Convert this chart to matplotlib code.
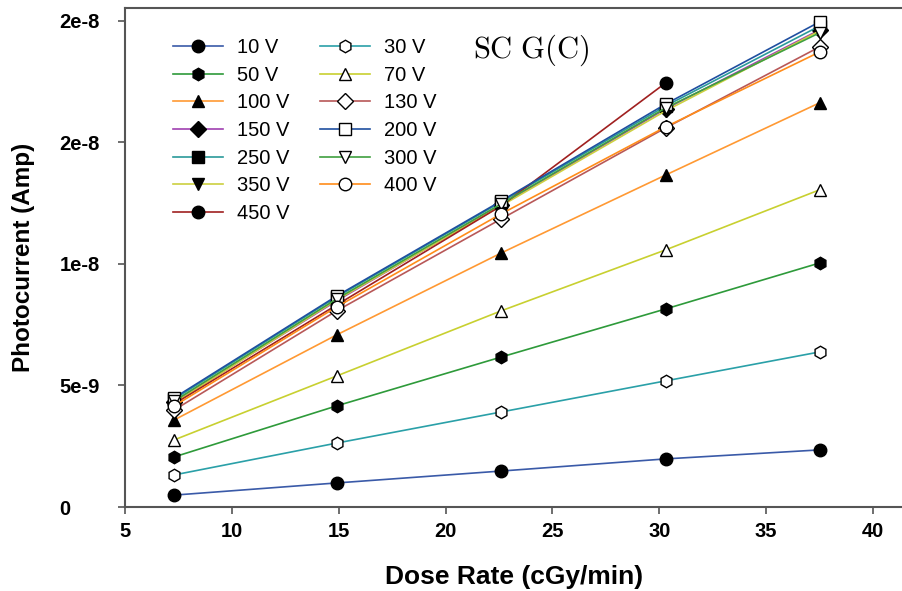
import numpy as np
import matplotlib.pyplot as plt

plt.rcParams['font.family'] = ['Liberation Sans', 'DejaVu Sans']
plt.rcParams['mathtext.fontset'] = 'cm'

dose = [7.3, 14.9, 22.6, 30.3, 37.5]

# photocurrent in units of 1e-9 A
i10 = [0.49, 0.99, 1.48, 1.98, 2.35]
i30 = [1.32, 2.63, 3.91, 5.19, 6.38]
i50 = [2.06, 4.16, 6.17, 8.15, 10.04]
i70 = [2.76, 5.39, 8.07, 10.58, 13.05]
i100 = [3.58, 7.08, 10.45, 13.66, 16.63]
i130 = [3.99, 8.07, 11.85, 15.60, 18.93]
i150 = [4.32, 8.48, 12.43, 16.38, 19.63]
i200 = [4.49, 8.68, 12.59, 16.58, 19.96]
i250 = [4.44, 8.64, 12.55, 16.50, 19.79]
i300 = [4.36, 8.56, 12.47, 16.42, 19.51]
i350 = [4.28, 8.52, 12.39, 16.30, 19.59]
i400 = [4.16, 8.23, 12.06, 15.64, 18.72]
i450 = [4.24, 8.31, 12.39, 17.45, np.nan]

ytick_vals = [0, 5e-9, 1e-8, 1.5e-8, 2e-8]
ytick_labels = ['0', '5e-9', '1e-8', '2e-8', '2e-8']
xtick_vals = [5, 10, 15, 20, 25, 30, 35, 40]

# label, data, line colour, marker, filled
series = [
    ('10 V', i10, '#3a5aa8', 'o', True),
    ('50 V', i50, '#2e9a3a', 'h', True),
    ('100 V', i100, '#ff9933', '^', True),
    ('150 V', i150, '#a040b0', 'D', True),
    ('250 V', i250, '#2a9a9a', 's', True),
    ('350 V', i350, '#ccd040', 'v', True),
    ('450 V', i450, '#a02020', 'o', True),
    ('30 V', i30, '#2aa0a8', 'h', False),
    ('70 V', i70, '#c8d030', '^', False),
    ('130 V', i130, '#b85858', 'D', False),
    ('200 V', i200, '#1f4fa0', 's', False),
    ('300 V', i300, '#40a040', 'v', False),
    ('400 V', i400, '#ff8c1a', 'o', False),
]

fig = plt.figure(figsize=(9.03, 5.91), dpi=100)
ax = fig.add_axes([0.1384, 0.1421, 0.8616, 0.8444])

for lab, vals, col, mk, filled in series:
    y = np.array(vals) * 1e-9
    ms = 8 if mk in ('D', 's') else 9
    ax.plot(dose, y, color=col, lw=1.2, marker=mk, ms=ms,
            mfc='black' if filled else 'white', mec='black', mew=1.0,
            label=lab)

ax.set_xlim(5, 41.4)
ax.set_ylim(0, 2.053e-8)
ax.set_xticks(xtick_vals)
ax.set_yticks(ytick_vals)
ax.set_yticklabels(ytick_labels)
ax.tick_params(direction='out', length=5, width=1.2, colors='#555555',
               labelcolor='black', labelsize=14.5)
ax.tick_params(axis='x', pad=6)
ax.tick_params(axis='y', pad=42)
for t in ax.get_xticklabels() + ax.get_yticklabels():
    t.set_fontweight('bold')
for t in ax.get_yticklabels():
    t.set_horizontalalignment('left')
for s in ['left', 'bottom', 'top']:
    ax.spines[s].set_color('#555555')
    ax.spines[s].set_linewidth(1.5)
ax.spines['right'].set_visible(False)

ax.set_xlabel('Dose Rate (cGy/min)', fontsize=19, fontweight='bold')
ax.set_ylabel('Photocurrent (Amp)', fontsize=17.5, fontweight='bold')
ax.xaxis.set_label_coords(0.5, -0.116)
ax.yaxis.set_label_coords(-0.116, 0.5)

ax.text(0.447, 0.916, r'$\mathrm{SC\ G(C)}$', transform=ax.transAxes,
        fontsize=22, va='center', ha='left')

ax.legend(loc='upper left', bbox_to_anchor=(0.038, 0.976), ncol=2,
          frameon=False, fontsize=14.5, handlelength=2.5, handletextpad=0.7,
          columnspacing=1.5, labelspacing=0.43)

fig.savefig('out.png', dpi=100)
